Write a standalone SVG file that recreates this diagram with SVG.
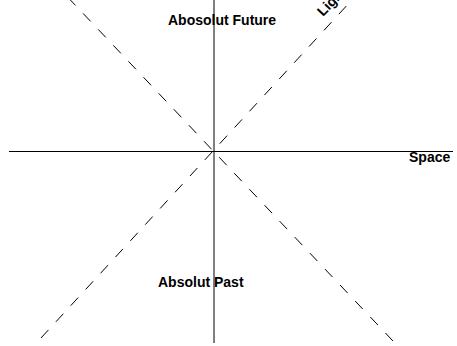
<svg xmlns="http://www.w3.org/2000/svg" width="457" height="346" viewBox="0 0 457 346">
<style>
.axis{stroke:#000;stroke-width:1;fill:none}
.cone{stroke:#000;stroke-width:1;fill:none;stroke-dasharray:11,11}
.lbl{font-family:"Liberation Sans",Arial,sans-serif;font-weight:bold;font-size:14px;fill:#000}
</style>
<rect width="457" height="346" fill="#fff"/>
<g id="connectors">
<line class="axis" x1="214" y1="0" x2="214" y2="343"/>
<line class="axis" x1="9" y1="151.5" x2="453" y2="151.5"/>
<line class="cone" x1="393" y1="341" x2="60" y2="-11"/>
<line class="cone" x1="41" y1="338" x2="362" y2="-11"/>
</g>
<g id="future"><text class="lbl" x="168" y="25">Abosolut Future</text></g>
<g id="past"><text class="lbl" x="158" y="287">Absolut Past</text></g>
<g id="space"><text class="lbl" x="409" y="162">Space</text></g>
<g id="light"><text class="lbl" x="323" y="17" transform="rotate(-46 323 17)">Light</text></g>
</svg>
